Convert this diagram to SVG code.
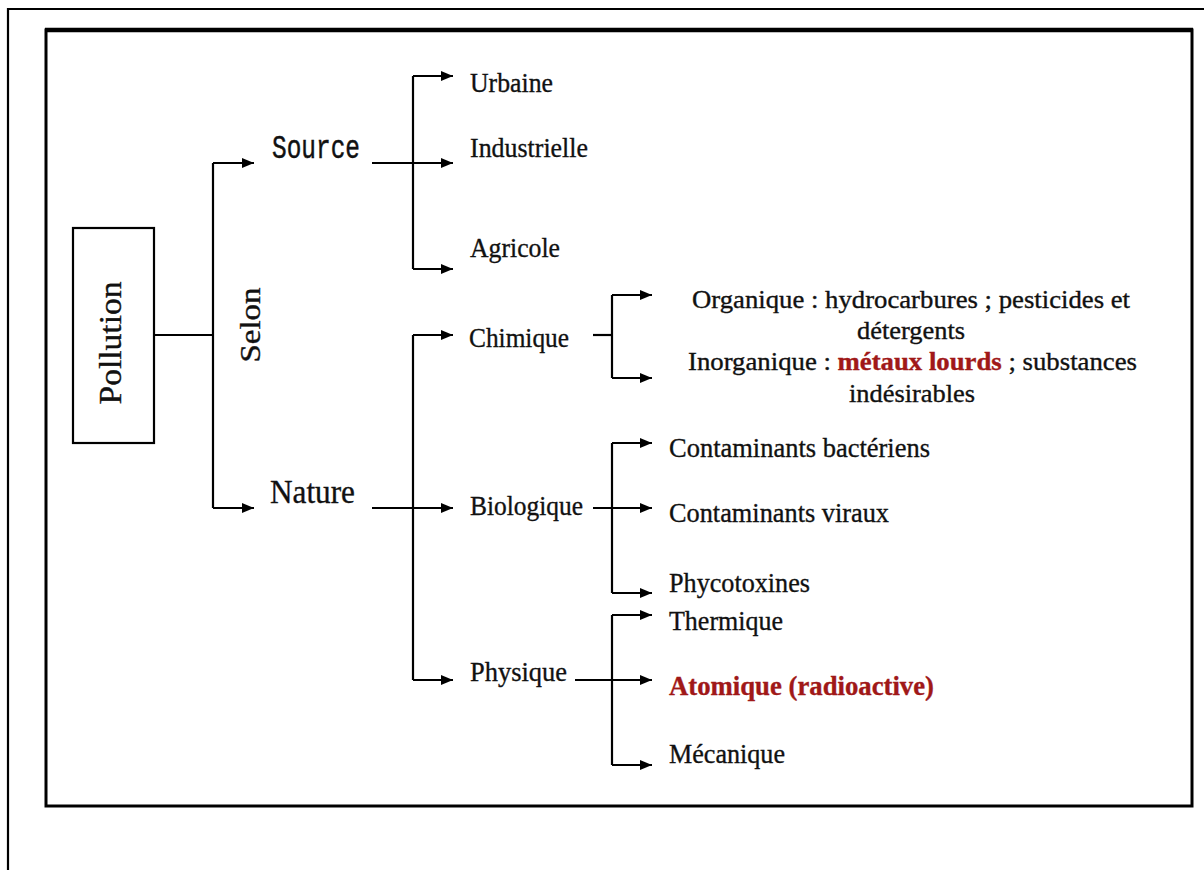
<svg xmlns="http://www.w3.org/2000/svg" width="1204" height="870" viewBox="0 0 1204 870">
<style>
.t{font-family:"Liberation Serif","Times New Roman",serif;fill:#111;stroke:#111;stroke-width:0.35;}
.m{font-size:28px;}
.s{font-size:25px;}
.red{fill:#a01818;stroke:#a01818;font-weight:bold;}
.c{fill:none;stroke:#000;stroke-width:2.2;}
.a{marker-end:url(#arr);}
</style>
<defs>
<marker id="arr" markerUnits="userSpaceOnUse" markerWidth="12" markerHeight="10" refX="12" refY="5" orient="auto">
<path d="M0,0 L12,5 L0,10 z" fill="#000"/>
</marker>
</defs>
<rect width="1204" height="870" fill="#fff"/>
<g id="frame">
<path d="M8,870 V9 H1204" fill="none" stroke="#000" stroke-width="2.2"/>
<rect x="46" y="30" width="1146" height="776" fill="none" stroke="#000" stroke-width="3"/>
<line x1="45" y1="30" x2="1193" y2="30" stroke="#000" stroke-width="4.5"/>
</g>
<g id="connectors">
<path class="c" d="M154,335 H213"/>
<path class="c" d="M213,163 V508"/>
<path class="c a" d="M213,163 H254"/>
<path class="c a" d="M213,508 H254"/>
<path class="c a" d="M372,163 H453"/>
<path class="c" d="M413,76 V269"/>
<path class="c a" d="M413,76 H453"/>
<path class="c a" d="M413,269 H453"/>
<path class="c a" d="M372,508 H453"/>
<path class="c" d="M413,335 V680"/>
<path class="c a" d="M413,335 H453"/>
<path class="c a" d="M413,680 H453"/>
<path class="c" d="M593,335 H612"/>
<path class="c" d="M612,295 V378"/>
<path class="c a" d="M612,295 H652"/>
<path class="c a" d="M612,378 H652"/>
<path class="c a" d="M593,508 H652"/>
<path class="c" d="M612,443 V593"/>
<path class="c a" d="M612,443 H652"/>
<path class="c a" d="M612,593 H652"/>
<path class="c a" d="M575,680 H652"/>
<path class="c" d="M612,615 V765"/>
<path class="c a" d="M612,615 H652"/>
<path class="c a" d="M612,765 H652"/>
</g>
<g id="pollution">
<rect x="73" y="228" width="81" height="215" fill="none" stroke="#000" stroke-width="2.2"/>
<text class="t" font-size="31" text-anchor="middle" textLength="123" lengthAdjust="spacingAndGlyphs" transform="translate(121,343) rotate(-90)">Pollution</text>
</g>
<g id="selon">
<text class="t" font-size="29" text-anchor="middle" textLength="75" lengthAdjust="spacingAndGlyphs" transform="translate(260,325) rotate(-90)">Selon</text>
</g>
<g id="source"><text x="272" y="158" font-family="Liberation Mono, Courier New, monospace" font-size="34" fill="#111" stroke="#111" stroke-width="0.5" textLength="88" lengthAdjust="spacingAndGlyphs">Source</text></g>
<g id="nature"><text class="t" x="270" y="503" font-size="34" textLength="85" lengthAdjust="spacingAndGlyphs">Nature</text></g>
<g id="urbaine"><text class="t m" x="470" y="92" textLength="83" lengthAdjust="spacingAndGlyphs">Urbaine</text></g>
<g id="industrielle"><text class="t m" x="470" y="157" textLength="118" lengthAdjust="spacingAndGlyphs">Industrielle</text></g>
<g id="agricole"><text class="t m" x="470" y="257" textLength="90" lengthAdjust="spacingAndGlyphs">Agricole</text></g>
<g id="chimique"><text class="t m" x="469" y="347" textLength="100" lengthAdjust="spacingAndGlyphs">Chimique</text></g>
<g id="biologique"><text class="t m" x="470" y="515" textLength="113" lengthAdjust="spacingAndGlyphs">Biologique</text></g>
<g id="physique"><text class="t m" x="470" y="681" textLength="97" lengthAdjust="spacingAndGlyphs">Physique</text></g>
<g id="organique">
<text class="t s" x="692" y="308" textLength="438" lengthAdjust="spacingAndGlyphs">Organique : hydrocarbures ; pesticides et</text>
<text class="t s" x="857" y="339" textLength="108" lengthAdjust="spacingAndGlyphs">détergents</text>
</g>
<g id="inorganique">
<text class="t s" x="688" y="370" textLength="449" lengthAdjust="spacingAndGlyphs">Inorganique : <tspan class="red">métaux lourds</tspan> ; substances</text>
<text class="t s" x="849" y="402" textLength="126" lengthAdjust="spacingAndGlyphs">indésirables</text>
</g>
<g id="bacteriens"><text class="t m" x="669" y="457" textLength="261" lengthAdjust="spacingAndGlyphs">Contaminants bactériens</text></g>
<g id="viraux"><text class="t m" x="669" y="522" textLength="220" lengthAdjust="spacingAndGlyphs">Contaminants viraux</text></g>
<g id="phycotoxines"><text class="t m" x="669" y="592" textLength="141" lengthAdjust="spacingAndGlyphs">Phycotoxines</text></g>
<g id="thermique"><text class="t m" x="669" y="630" textLength="114" lengthAdjust="spacingAndGlyphs">Thermique</text></g>
<g id="atomique"><text class="t m red" x="669" y="695" textLength="265" lengthAdjust="spacingAndGlyphs">Atomique (radioactive)</text></g>
<g id="mecanique"><text class="t m" x="669" y="763" textLength="116" lengthAdjust="spacingAndGlyphs">Mécanique</text></g>
</svg>
